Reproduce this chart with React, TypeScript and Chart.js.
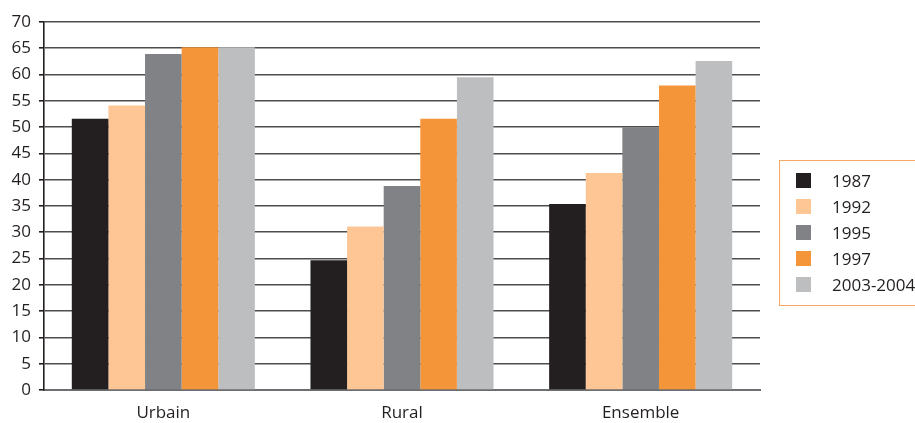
import React, { useEffect, useRef } from "react";
import { Chart, registerables } from "chart.js";

Chart.register(...registerables);

const categories = ["Urbain", "Rural", "Ensemble"];
const seriesLabels = ["1987", "1992", "1995", "1997", "2003-2004"];
const values1987 = [51.6, 24.7, 35.4];
const values1992 = [54.1, 31.1, 41.3];
const values1995 = [63.9, 38.8, 50.0];
const values1997 = [65.2, 51.6, 57.9];
const values2003 = [65.2, 59.5, 62.6];
const seriesValues = [values1987, values1992, values1995, values1997, values2003];
const seriesColors = ["#231f20", "#fdc694", "#808285", "#f5953a", "#bcbec0"];
const yTicks = [0, 5, 10, 15, 20, 25, 30, 35, 40, 45, 50, 55, 60, 65, 70];

const FONT = "'Open Sans', Lato, sans-serif";
const TEXT = "#231f20";

export default function App() {
  const canvasRef = useRef<HTMLCanvasElement | null>(null);

  useEffect(() => {
    if (!canvasRef.current) return;
    const chart = new Chart(canvasRef.current, {
      type: "bar",
      data: {
        labels: categories,
        datasets: seriesLabels.map((label, i) => ({
          label,
          data: seriesValues[i],
          backgroundColor: seriesColors[i],
          borderWidth: 0,
          categoryPercentage: 0.767,
          barPercentage: 1,
        })),
      },
      options: {
        responsive: false,
        animation: false,
        layout: { padding: { top: 22, right: 155, bottom: 0, left: 0 } },
        plugins: { legend: { display: false }, tooltip: { enabled: false } },
        scales: {
          x: {
            grid: { display: false, drawTicks: false },
            border: { display: true, color: "#6d6e71", width: 2 },
            ticks: { color: TEXT, font: { family: FONT, size: 17 }, padding: 13 },
            afterFit: (scale: any) => {
              scale.height = 33;
            },
          },
          y: {
            min: 0,
            max: 70,
            afterBuildTicks: (scale: any) => {
              scale.ticks = yTicks.map((v) => ({ value: v }));
            },
            grid: {
              color: "#4d4d4f",
              lineWidth: 1.6,
              tickLength: 5,
              tickColor: "#231f20",
            },
            border: { display: true, color: "#231f20", width: 1.6 },
            ticks: { color: TEXT, font: { family: FONT, size: 17 }, padding: 8 },
            afterFit: (scale: any) => {
              scale.width = 44;
            },
          },
        },
      },
    });
    return () => chart.destroy();
  }, []);

  return (
    <div
      style={{
        position: "absolute",
        left: 0,
        top: 0,
        width: 915,
        height: 423,
        overflow: "hidden",
        background: "#fff",
      }}
    >
      <canvas ref={canvasRef} width={915} height={423} style={{ display: "block" }} />
      <div
        style={{
          position: "absolute",
          left: 779,
          top: 160,
          width: 150,
          height: 146,
          border: "1.5px solid #f7a865",
          boxSizing: "border-box",
          fontFamily: FONT,
          fontSize: 17,
          color: TEXT,
        }}
      >
        {seriesLabels.map((label, i) => (
          <div
            key={label}
            style={{
              position: "absolute",
              left: 16,
              top: 11 + i * 26,
              height: 16,
              display: "flex",
              alignItems: "center",
              whiteSpace: "nowrap",
            }}
          >
            <span
              style={{
                display: "inline-block",
                width: 15,
                height: 15,
                background: seriesColors[i],
                marginRight: 21,
              }}
            />
            <span>{label}</span>
          </div>
        ))}
      </div>
    </div>
  );
}
